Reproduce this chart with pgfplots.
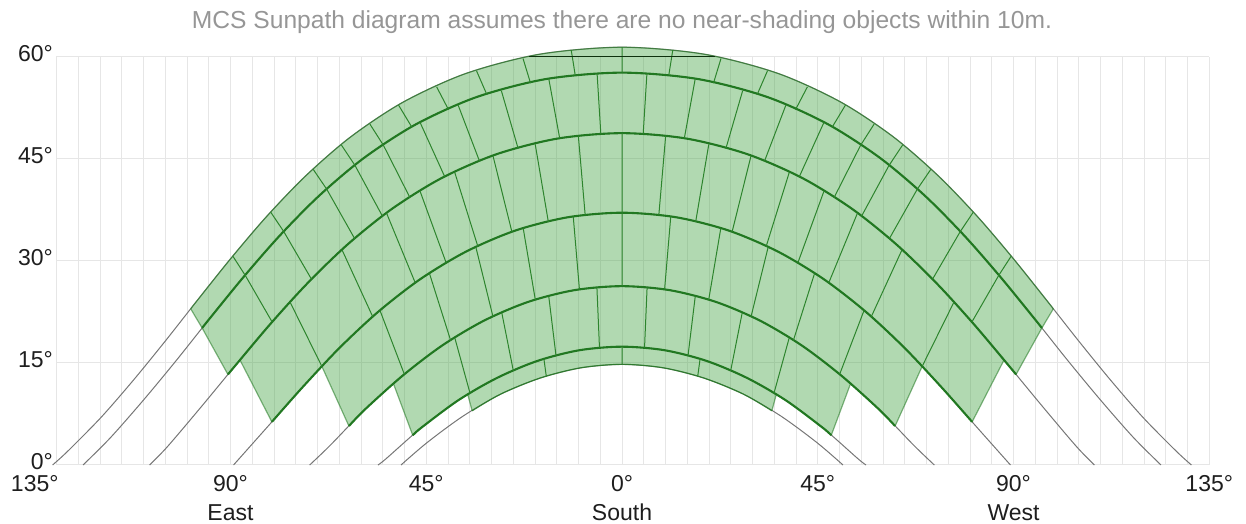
\documentclass[border=0pt]{standalone}
\usepackage{pgfplots}
\pgfplotsset{compat=1.18}
\usepgfplotslibrary{fillbetween}
\usepackage{fontspec}
\setmainfont{Liberation Sans}
\definecolor{gridc}{RGB}{230,230,230}
\definecolor{pathc}{RGB}{118,118,118}
\definecolor{fillc}{RGB}{60,160,60}
\definecolor{linec}{RGB}{33,120,33}
\definecolor{divc}{RGB}{45,132,45}
\definecolor{titlec}{RGB}{150,150,150}
\definecolor{labc}{RGB}{30,30,30}
\newcommand\lblfont{\fontsize{11.5}{13}\selectfont}
\begin{document}
\begin{tikzpicture}
\begin{axis}[
  set layers,
  x=2.175pt, y=3.4pt,
  xmin=-130, xmax=135, ymin=0, ymax=60,
  clip=false,
  axis line style={draw=none},
  tick style={draw=none},
  xtick={-90,-45,0,45,90,135},
  xticklabels={90°,45°,0°,45°,90°,135°},
  minor xtick={-130,-125,...,135},
  ytick={0,15,30,45,60},
  yticklabels={0°,15°,30°,45°,60°},
  grid=both,
  major grid style={gridc, line width=0.5pt},
  minor grid style={gridc, line width=0.5pt},
  xticklabel style={anchor=base, yshift=-13.3pt, inner sep=0pt, font=\lblfont, text=labc},
  yticklabel style={anchor=base east, xshift=-1.6pt, yshift=-2.25pt, inner sep=0pt, font=\lblfont, text=labc},
  outer/.style={draw=linec, draw opacity=0.55, line width=0.6pt},
  inner/.style={draw=linec, line width=1.05pt},
]
% full sun paths (gray)
\addplot[on layer=axis grid, pathc, line width=0.5pt, smooth] coordinates {(-130.9,0) (-127.35,2.07) (-119.72,7.03) (-112.29,12.50) (-104.94,18.27) (-97.52,24.30) (-89.84,30.44) (-81.65,36.58) (-72.63,42.57) (-62.36,48.26) (-50.27,53.38) (-35.84,57.59) (-18.84,60.42) (0,61.44) (18.84,60.42) (35.84,57.59) (50.27,53.38) (62.36,48.26) (72.63,42.57) (81.65,36.58) (89.84,30.44) (97.52,24.30) (104.94,18.27) (112.29,12.50) (119.72,7.03) (127.35,2.07) (130.9,0)};
\addplot[on layer=axis grid, pathc, line width=0.5pt, smooth] coordinates {(-123.9,0) (-117.54,4.06) (-109.94,9.60) (-102.43,15.40) (-94.85,21.49) (-87.01,27.64) (-78.67,33.74) (-69.52,39.66) (-59.20,45.21) (-47.26,50.14) (-33.33,54.13) (-17.36,56.77) (0,57.70) (17.36,56.77) (33.33,54.13) (47.26,50.14) (59.20,45.21) (69.52,39.66) (78.67,33.74) (87.01,27.64) (94.85,21.49) (102.43,15.40) (109.94,9.60) (117.54,4.06) (123.9,0)};
\addplot[on layer=axis grid, pathc, line width=0.5pt, smooth] coordinates {(-108.6,0) (-104.48,2.71) (-96.70,8.58) (-88.87,14.64) (-80.81,20.76) (-72.29,26.74) (-63.07,32.44) (-52.90,37.66) (-41.51,42.18) (-28.77,45.72) (-14.77,48.01) (0,48.80) (14.77,48.01) (28.77,45.72) (41.51,42.18) (52.90,37.66) (63.07,32.44) (72.29,26.74) (80.81,20.76) (88.87,14.64) (96.70,8.58) (104.48,2.71) (108.6,0)};
\addplot[on layer=axis grid, pathc, line width=0.5pt, smooth] coordinates {(-89.3,0) (-81.54,5.58) (-73.45,11.43) (-65.01,17.18) (-56.03,22.54) (-46.35,27.34) (-35.85,31.38) (-24.51,34.48) (-12.46,36.43) (0,37.10) (12.46,36.43) (24.51,34.48) (35.85,31.38) (46.35,27.34) (56.03,22.54) (65.01,17.18) (73.45,11.43) (81.54,5.58) (89.3,0)};
\addplot[on layer=axis grid, pathc, line width=0.5pt, smooth] coordinates {(-71.8,0) (-67.10,2.88) (-58.94,8.26) (-50.39,13.16) (-41.32,17.58) (-31.69,21.24) (-21.51,24.00) (-10.88,25.72) (0,26.30) (10.88,25.72) (21.51,24.00) (31.69,21.24) (41.32,17.58) (50.39,13.16) (58.94,8.26) (67.10,2.88) (71.8,0)};
\addplot[on layer=axis grid, pathc, line width=0.5pt, smooth] coordinates {(-56.1,0) (-54.17,0.96) (-46.08,5.51) (-37.59,9.54) (-28.69,12.82) (-19.38,15.32) (-9.78,16.88) (0,17.40) (9.78,16.88) (19.38,15.32) (28.69,12.82) (37.59,9.54) (46.08,5.51) (54.17,0.96) (56.1,0)};
\addplot[on layer=axis grid, pathc, line width=0.5pt, smooth] coordinates {(-50.8,0) (-44.84,3.28) (-36.54,7.19) (-27.85,10.44) (-18.80,12.79) (-9.48,14.29) (0,14.80) (9.48,14.29) (18.80,12.79) (27.85,10.44) (36.54,7.19) (44.84,3.28) (50.8,0)};

% band boundaries
\addplot[outer, smooth, name path=b1u] coordinates {(-99.15,22.97) (-97.52,24.30) (-89.84,30.44) (-81.65,36.58) (-72.63,42.57) (-62.36,48.26) (-50.27,53.38) (-35.84,57.59) (-18.84,60.42) (0,61.44) (18.84,60.42) (35.84,57.59) (50.27,53.38) (62.36,48.26) (72.63,42.57) (81.65,36.58) (89.84,30.44) (97.52,24.30) (99.15,22.97)};
\addplot[inner, smooth, name path=b1l] coordinates {(-96.52,20.15) (-94.85,21.49) (-87.01,27.64) (-78.67,33.74) (-69.52,39.66) (-59.20,45.21) (-47.26,50.14) (-33.33,54.13) (-17.36,56.77) (0,57.70) (17.36,56.77) (33.33,54.13) (47.26,50.14) (59.20,45.21) (69.52,39.66) (78.67,33.74) (87.01,27.64) (94.85,21.49) (96.52,20.15)};
\addplot[inner, smooth, name path=b2l] coordinates {(-90.59,13.31) (-88.87,14.64) (-80.81,20.76) (-72.29,26.74) (-63.07,32.44) (-52.90,37.66) (-41.51,42.18) (-28.77,45.72) (-14.77,48.01) (0,48.80) (14.77,48.01) (28.77,45.72) (41.51,42.18) (52.90,37.66) (63.07,32.44) (72.29,26.74) (80.81,20.76) (88.87,14.64) (90.59,13.31)};
\addplot[draw=none, smooth, name path=b3u] coordinates {(-87.82,15.44) (-80.81,20.76) (-72.29,26.74) (-63.07,32.44) (-52.90,37.66) (-41.51,42.18) (-28.77,45.72) (-14.77,48.01) (0,48.80) (14.77,48.01) (28.77,45.72) (41.51,42.18) (52.90,37.66) (63.07,32.44) (72.29,26.74) (80.81,20.76) (87.82,15.44)};
\addplot[inner, smooth, name path=b3l] coordinates {(-80.49,6.34) (-73.45,11.43) (-65.01,17.18) (-56.03,22.54) (-46.35,27.34) (-35.85,31.38) (-24.51,34.48) (-12.46,36.43) (0,37.10) (12.46,36.43) (24.51,34.48) (35.85,31.38) (46.35,27.34) (56.03,22.54) (65.01,17.18) (73.45,11.43) (80.49,6.34)};
\addplot[draw=none, smooth, name path=b4u] coordinates {(-68.98,14.48) (-65.01,17.18) (-56.03,22.54) (-46.35,27.34) (-35.85,31.38) (-24.51,34.48) (-12.46,36.43) (0,37.10) (12.46,36.43) (24.51,34.48) (35.85,31.38) (46.35,27.34) (56.03,22.54) (65.01,17.18) (68.98,14.48)};
\addplot[inner, smooth, name path=b4l] coordinates {(-62.78,5.73) (-58.94,8.26) (-50.39,13.16) (-41.32,17.58) (-31.69,21.24) (-21.51,24.00) (-10.88,25.72) (0,26.30) (10.88,25.72) (21.51,24.00) (31.69,21.24) (41.32,17.58) (50.39,13.16) (58.94,8.26) (62.78,5.73)};
\addplot[draw=none, smooth, name path=b5u] coordinates {(-52.53,11.94) (-50.39,13.16) (-41.32,17.58) (-31.69,21.24) (-21.51,24.00) (-10.88,25.72) (0,26.30) (10.88,25.72) (21.51,24.00) (31.69,21.24) (41.32,17.58) (50.39,13.16) (52.53,11.94)};
\addplot[inner, smooth, name path=b5l] coordinates {(-48.10,4.37) (-46.08,5.51) (-37.59,9.54) (-28.69,12.82) (-19.38,15.32) (-9.78,16.88) (0,17.40) (9.78,16.88) (19.38,15.32) (28.69,12.82) (37.59,9.54) (46.08,5.51) (48.10,4.37)};
\addplot[draw=none, smooth, name path=b6u] coordinates {(-35.45,10.33) (-28.69,12.82) (-19.38,15.32) (-9.78,16.88) (0,17.40) (9.78,16.88) (19.38,15.32) (28.69,12.82) (35.45,10.33)};
\addplot[outer, draw opacity=0.8, smooth, name path=b6l] coordinates {(-34.45,7.97) (-27.85,10.44) (-18.80,12.79) (-9.48,14.29) (0,14.80) (9.48,14.29) (18.80,12.79) (27.85,10.44) (34.45,7.97)};

% fills
\addplot[fill=fillc, fill opacity=0.4, draw=none] fill between[of=b1u and b1l];
\addplot[fill=fillc, fill opacity=0.4, draw=none] fill between[of=b1l and b2l];
\addplot[fill=fillc, fill opacity=0.4, draw=none] fill between[of=b3u and b3l];
\addplot[fill=fillc, fill opacity=0.4, draw=none] fill between[of=b4u and b4l];
\addplot[fill=fillc, fill opacity=0.4, draw=none] fill between[of=b5u and b5l];
\addplot[fill=fillc, fill opacity=0.4, draw=none] fill between[of=b6u and b6l];

% cell dividers
\addplot[divc, line width=0.5pt, unbounded coords=jump] coordinates {
(0,61.44) (0,57.70) (0,nan)
(11.68,61.05) (10.76,57.34) (0,nan) (-11.68,61.05) (-10.76,57.34) (0,nan)
(22.75,59.77) (21.03,56.16) (0,nan) (-22.75,59.77) (-21.03,56.16) (0,nan)
(33.46,57.99) (31.09,54.50) (0,nan) (-33.46,57.99) (-31.09,54.50) (0,nan)
(42.62,55.61) (39.88,52.25) (0,nan) (-42.62,55.61) (-39.88,52.25) (0,nan)
(51.36,52.92) (48.33,49.70) (0,nan) (-51.36,52.92) (-48.33,49.70) (0,nan)
(57.95,50.13) (54.84,47.01) (48.74,39.31) (0,nan) (-57.95,50.13) (-54.84,47.01) (-48.74,39.31) (0,nan)
(64.52,47.07) (61.37,44.04) (55.04,36.56) (0,nan) (-64.52,47.07) (-61.37,44.04) (-55.04,36.56) (0,nan)
(70.99,43.48) (67.87,40.55) (61.44,33.27) (0,nan) (-70.99,43.48) (-67.87,40.55) (-61.44,33.27) (0,nan)
(80.75,37.18) (77.76,34.33) (71.37,27.31) (0,nan) (-80.75,37.18) (-77.76,34.33) (-71.37,27.31) (0,nan)
(89.47,30.72) (86.63,27.91) (80.43,21.03) (0,nan) (-89.47,30.72) (-86.63,27.91) (-80.43,21.03) (0,nan)
(5.73,57.60) (4.87,48.71) (0,nan) (-5.73,57.60) (-4.87,48.71) (0,nan)
(16.84,56.82) (14.33,48.06) (0,nan) (-16.84,56.82) (-14.33,48.06) (0,nan)
(27.74,55.05) (23.87,46.52) (0,nan) (-27.74,55.05) (-23.87,46.52) (0,nan)
(37.65,52.89) (32.72,44.62) (0,nan) (-37.65,52.89) (-32.72,44.62) (0,nan)
(46.42,50.38) (40.75,42.39) (0,nan) (-46.42,50.38) (-40.75,42.39) (0,nan)
(0,48.80) (0,37.10) (0,nan)
(10.04,48.43) (8.47,36.79) (0,nan) (-10.04,48.43) (-8.47,36.79) (0,nan)
(19.95,47.16) (16.92,35.71) (0,nan) (-19.95,47.16) (-16.92,35.71) (0,nan)
(29.66,45.47) (25.30,34.26) (0,nan) (-29.66,45.47) (-25.30,34.26) (0,nan)
(38.45,43.03) (33.13,32.12) (0,nan) (-38.45,43.03) (-33.13,32.12) (0,nan)
(46.41,40.24) (40.37,29.64) (0,nan) (-46.41,40.24) (-40.37,29.64) (0,nan)
(54.12,37.03) (47.51,26.76) (0,nan) (-54.12,37.03) (-47.51,26.76) (0,nan)
(64.36,31.64) (57.29,21.79) (0,nan) (-64.36,31.64) (-57.29,21.79) (0,nan)
(76.29,23.93) (68.98,14.48) (0,nan) (-76.29,23.93) (-68.98,14.48) (0,nan)
(0,37.10) (0,26.30) (0,nan)
(11.21,36.56) (9.79,25.83) (0,nan) (-11.21,36.56) (-9.79,25.83) (0,nan)
(22.70,34.77) (19.92,24.26) (0,nan) (-22.70,34.77) (-19.92,24.26) (0,nan)
(33.58,32.00) (29.65,21.79) (0,nan) (-33.58,32.00) (-29.65,21.79) (0,nan)
(44.25,28.15) (39.39,18.31) (0,nan) (-44.25,28.15) (-39.39,18.31) (0,nan)
(55.64,22.73) (50.03,13.34) (0,nan) (-55.64,22.73) (-50.03,13.34) (0,nan)
(5.77,26.14) (5.18,17.25) (0,nan) (-5.77,26.14) (-5.18,17.25) (0,nan)
(16.83,24.76) (15.16,16.01) (0,nan) (-16.83,24.76) (-15.16,16.01) (0,nan)
(27.62,22.34) (24.97,13.82) (0,nan) (-27.62,22.34) (-24.97,13.82) (0,nan)
(38.43,18.68) (34.92,10.52) (0,nan) (-38.43,18.68) (-34.92,10.52) (0,nan)
(0,17.40) (0,14.80) (0,nan)
(17.94,15.55) (17.40,13.02) (0,nan) (-17.94,15.55) (-17.40,13.02)
};
% outer band ends
\addplot[outer, unbounded coords=jump] coordinates {
(99.15,22.97) (96.52,20.15) (90.59,13.31) (0,nan) (-99.15,22.97) (-96.52,20.15) (-90.59,13.31) (0,nan)
(87.82,15.44) (80.49,6.34) (0,nan) (-87.82,15.44) (-80.49,6.34) (0,nan)
(68.98,14.48) (62.78,5.73) (0,nan) (-68.98,14.48) (-62.78,5.73) (0,nan)
(52.53,11.94) (48.10,4.37) (0,nan) (-52.53,11.94) (-48.10,4.37) (0,nan)
(35.45,10.33) (34.45,7.97) (0,nan) (-35.45,10.33) (-34.45,7.97)
};
% 60 degree line inside the band
\addplot[black!60!linec, line width=0.5pt] coordinates {(-21.4,60) (21.4,60)};

\node[anchor=base, inner sep=0pt, font=\fontsize{12.3}{14}\selectfont, text=titlec] at (axis cs:0,60) [yshift=14.35pt] {MCS Sunpath diagram assumes there are no near-shading objects within 10m.};
\node[anchor=base, inner sep=0pt, font=\lblfont, text=labc] at (axis cs:-135,0) [yshift=-13.3pt] {135°};
\node[anchor=base, inner sep=0pt, font=\lblfont, text=labc] at (axis cs:-90,0) [yshift=-27.5pt] {East};
\node[anchor=base, inner sep=0pt, font=\lblfont, text=labc] at (axis cs:0,0) [yshift=-27.5pt] {South};
\node[anchor=base, inner sep=0pt, font=\lblfont, text=labc] at (axis cs:90,0) [yshift=-27.5pt] {West};
\end{axis}
\pgfresetboundingbox
\path[use as bounding box] (-28.25pt,-29.5pt) rectangle (594.75pt,232.5pt);
\end{tikzpicture}
\end{document}
